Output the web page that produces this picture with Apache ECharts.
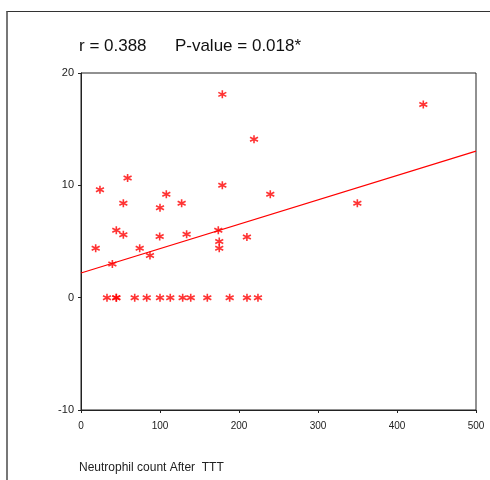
<!DOCTYPE html>
<html>
<head>
<meta charset="utf-8">
<script src="https://cdn.jsdelivr.net/npm/echarts@6/dist/echarts.min.js"></script>
<style>
  html, body { margin: 0; padding: 0; background: #fff; }
  #wrap { position: relative; width: 490px; height: 480px; }
  #frame { position: absolute; left: 6px; top: 11px; right: 0; bottom: 0;
           border-top: 1px solid #333; border-left: 2px solid #777; }
  #chart { position: absolute; left: 0; top: 0; width: 490px; height: 480px; }
</style>
</head>
<body>
<div id="wrap">
  <div id="frame"></div>
  <div id="chart"></div>
</div>
<script>
  // values: [neutrophil count after TTT, y]
  var points = [
    [18.6, 4.4], [24, 9.6], [39.7, 3.0], [44.7, 6.0], [53.6, 8.4], [53.6, 5.6],
    [59, 10.65], [74.3, 4.4], [87.3, 3.75], [99.6, 5.45], [100, 8.0], [108, 9.2],
    [127.4, 8.4], [133.7, 5.65], [173.8, 6.0], [175, 5.0], [175, 4.4], [178.9, 18.1],
    [178.9, 10.0], [210, 5.4], [219, 14.1], [239.6, 9.2], [349.8, 8.4], [433.3, 17.2]
  ];
  var zeroX = [32.9, 44.7, 44.7, 68, 83.2, 100, 113, 128.7, 138.9, 159.9, 188.2, 210.1, 224];
  var fitLine = [[0, 2.2], [500, 13.05]];
  var xTicks = [0, 100, 200, 300, 400, 500];
  var yTicks = [-10, 0, 10, 20];

  var font = '"Liberation Sans Narrow", "Liberation Sans", Arial, sans-serif';
  var star = 'path://M5,0 L5,10 M0.67,2.5 L9.33,7.5 M0.67,7.5 L9.33,2.5';

  var allPoints = points.concat(zeroX.map(function (x) { return [x, 0]; }));

  var chart = echarts.init(document.getElementById('chart'));
  chart.setOption({
    animation: false,
    title: [{
      text: 'r = 0.388      P-value = 0.018*',
      left: 79, top: 38, padding: 0,
      textStyle: { fontFamily: font, fontSize: 17, fontWeight: 'normal', color: '#111' }
    }, {
      text: 'Neutrophil count After  TTT',
      left: 79, top: 462, padding: 0,
      textStyle: { fontFamily: font, fontSize: 12, fontWeight: 'normal', color: '#222' }
    }],
    grid: { left: 81, right: 14, top: 73, bottom: 70, show: true, borderColor: '#222', borderWidth: 1 },
    xAxis: {
      type: 'value', min: xTicks[0], max: xTicks[xTicks.length - 1], interval: 100,
      axisLine: { show: true, onZero: false, lineStyle: { color: '#222', width: 1 } },
      axisTick: { show: true, length: 3, lineStyle: { color: '#222' } },
      axisLabel: { fontFamily: font, fontSize: 10, color: '#222', margin: 11 },
      splitLine: { show: false }
    },
    yAxis: {
      type: 'value', min: yTicks[0], max: yTicks[yTicks.length - 1], interval: 10,
      axisLine: { show: true, onZero: false, lineStyle: { color: '#222', width: 1 } },
      axisTick: { show: true, length: 3, lineStyle: { color: '#222' } },
      axisLabel: { fontFamily: font, fontSize: 11, color: '#222', margin: 7 },
      splitLine: { show: false }
    },
    series: [{
      type: 'scatter',
      data: allPoints,
      symbol: star,
      symbolSize: 8,
      itemStyle: { color: 'rgba(0,0,0,0)', borderColor: '#ff0000', borderWidth: 1.6 }
    }, {
      type: 'line',
      data: fitLine,
      symbol: 'none',
      lineStyle: { color: '#ff0000', width: 1.2 }
    }]
  });
</script>
</body>
</html>
